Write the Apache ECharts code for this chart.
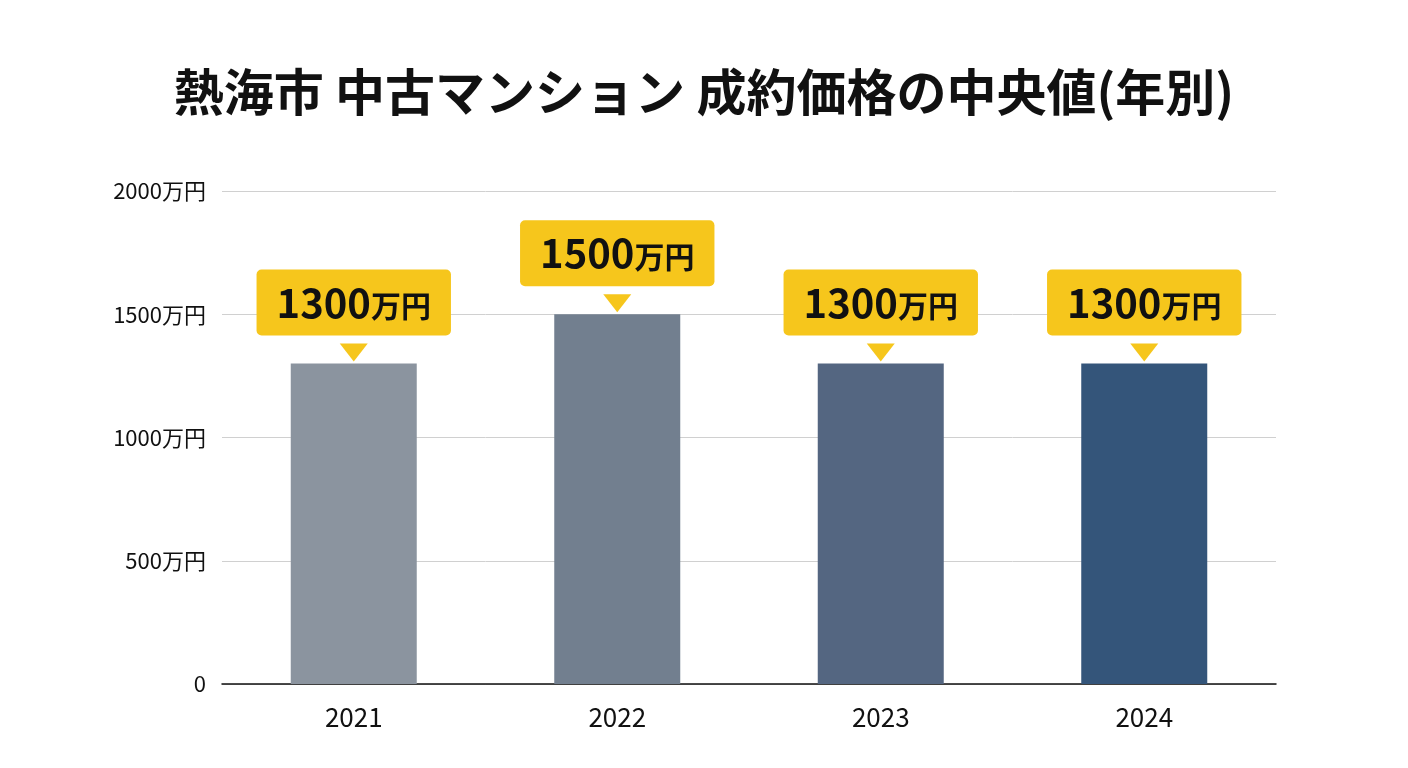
<!DOCTYPE html>
<html><head><meta charset="utf-8">
<script src="https://cdn.jsdelivr.net/npm/echarts@6/dist/echarts.min.js"></script>
<style>html,body{margin:0;background:#fff}#c{width:1408px;height:768px}</style>
</head><body><div id="c"></div>
<script>
var years = ['2021', '2022', '2023', '2024'];
var prices = [1300, 1500, 1300, 1300];
var barColors = ['#8b949f', '#727f8f', '#546681', '#34557a'];
var yTicks = [0, 500, 1000, 1500, 2000];

var chart = echarts.init(document.getElementById('c'));
var font = '"Noto Sans CJK JP", "Noto Sans", sans-serif';
chart.setOption({
  textStyle: { fontFamily: font },
  title: {
    text: '熱海市 中古マンション 成約価格の中央値(年別)',
    left: 'center', top: 62,
    textStyle: { fontSize: 50, fontWeight: 'bold', color: '#111', fontFamily: font }
  },
  grid: { left: 222, right: 132, top: 191, bottom: 84 },
  xAxis: {
    type: 'category', data: years,
    axisLine: { lineStyle: { color: '#111', width: 1.5 } },
    axisTick: { show: false },
    axisLabel: { fontSize: 26, color: '#111', margin: 20 }
  },
  yAxis: {
    type: 'value', min: yTicks[0], max: yTicks[yTicks.length - 1], interval: 500,
    axisLabel: { fontSize: 22, color: '#111', margin: 16,
      formatter: function (v) { return v === 0 ? '0' : v + '万円'; } },
    splitLine: { lineStyle: { color: '#d0d0d0' } }
  },
  series: [{
    type: 'bar', barWidth: 126,
    data: prices.map(function (v, i) { return { value: v, itemStyle: { color: barColors[i] } }; }),
    label: {
      show: true, position: 'top', distance: 28,
      backgroundColor: '#f6c61c', borderRadius: 5, padding: [13, 20, 13, 20],
      formatter: function (p) { return '{n|' + p.value + '}{u|万円}'; },
      rich: {
        n: { fontSize: 40, fontWeight: 'bold', color: '#111', fontFamily: font },
        u: { fontSize: 30, fontWeight: 'bold', color: '#111', fontFamily: font, padding: [6, 0, 0, 0] }
      }
    }
  }, {
    type: 'pictorialBar', symbol: 'triangle', symbolRotate: 180,
    symbolSize: [28, 18], symbolPosition: 'end', symbolOffset: [0, -20],
    barGap: '-100%', z: 10, silent: true,
    itemStyle: { color: '#f6c61c' },
    data: prices
  }]
});
</script></body></html>
